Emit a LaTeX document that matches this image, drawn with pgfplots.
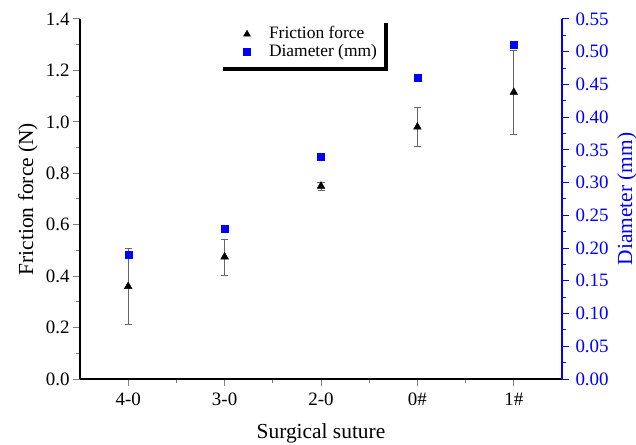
\documentclass[border=0pt]{standalone}
\usepackage{fontspec}
\setmainfont{Liberation Serif}
\usepackage{pgfplots}
\pgfplotsset{compat=1.18}
\usetikzlibrary{shadows}

\pgfplotstableread{
x  f      ferr   d
0  0.360  0.148  0.19
1  0.475  0.070  0.23
2  0.750  0.015  0.34
3  0.980  0.075  0.46
4  1.115  0.165  0.51
}\suture

\begin{document}
\begin{tikzpicture}
\pgfplotsset{
  every axis/.append style={
    scale only axis, width=482bp, height=360bp,
    xmin=-0.5, xmax=4.5,
    /pgf/number format/assume math mode=true,
    tick align=outside,
    major tick length=7bp, minor tick length=4bp,
    tick style={line width=1bp},
    axis line style={line width=1.3bp},
    tick label style={font=\fontsize{19}{21}\selectfont},
    label style={font=\fontsize{21.5}{24}\selectfont},
  },
}
\begin{axis}[
  name=main,
  axis x line*=bottom, axis y line*=left,
  ymin=0, ymax=1.4,
  ytick={0,0.2,...,1.4}, minor y tick num=1,
  xtick={0,...,4}, xticklabels={4-0,3-0,2-0,0\#,1\#},
  minor xtick={0.5,1.5,2.5,3.5},
  yticklabel style={/pgf/number format/.cd, fixed, fixed zerofill, precision=1},
  xticklabel style={yshift=-3bp},
  xlabel={Surgical suture}, ylabel={Friction force (N)},
  xlabel style={at={(axis description cs:0.5,-0.181)}, anchor=south, inner sep=1bp},
  ylabel style={at={(axis description cs:-0.108,0.5)}, anchor=center},
]
\addplot[only marks, mark=triangle*, mark size=4.5bp, black,
  error bars/.cd, y dir=both, y explicit,
  error bar style={gray!80!black, line width=0.7bp},
  error mark options={rotate=90, mark size=3.5bp, gray!80!black, line width=0.7bp}]
  table[x=x, y=f, y error=ferr] {\suture};
\end{axis}
\begin{axis}[
  axis x line=none, axis y line*=right,
  ymin=0, ymax=0.55,
  ytick={0,0.05,...,0.55}, minor y tick num=1,
  y axis line style={blue}, ytick style={blue},
  yticklabel style={blue, xshift=3bp, /pgf/number format/.cd, fixed, fixed zerofill, precision=2},
  ylabel={Diameter (mm)},
  ylabel style={blue, at={(axis description cs:1.135,0.5)}, anchor=center},
  legend style={at={(0.288,1)}, anchor=north west, draw=none, fill=white,
    font=\fontsize{17.5}{20}\selectfont, row sep=0bp,
    inner xsep=4bp, inner ysep=6bp,
    nodes={text height=12bp, text depth=4bp, inner ysep=1bp, inner xsep=3bp},
    general shadow={fill=black, shadow xshift=4bp, shadow yshift=-4bp}},
  legend image code/.code={\path[draw=none] (0bp,0bp) (43bp,0bp);
    \draw[#1] plot coordinates {(24bp,0bp)};},
  legend cell align=left,
]
\addlegendimage{only marks, mark=triangle*, mark size=4bp, black}
\addlegendentry{Friction force}
\addplot[only marks, mark=square*, mark size=3.5bp, blue]
  table[x=x, y=d] {\suture};
\addlegendentry{Diameter (mm)}
\end{axis}
\pgfresetboundingbox
\path ([shift={(-80bp,-66bp)}]main.south west) rectangle ([shift={(74bp,19bp)}]main.north east);
\end{tikzpicture}
\end{document}
